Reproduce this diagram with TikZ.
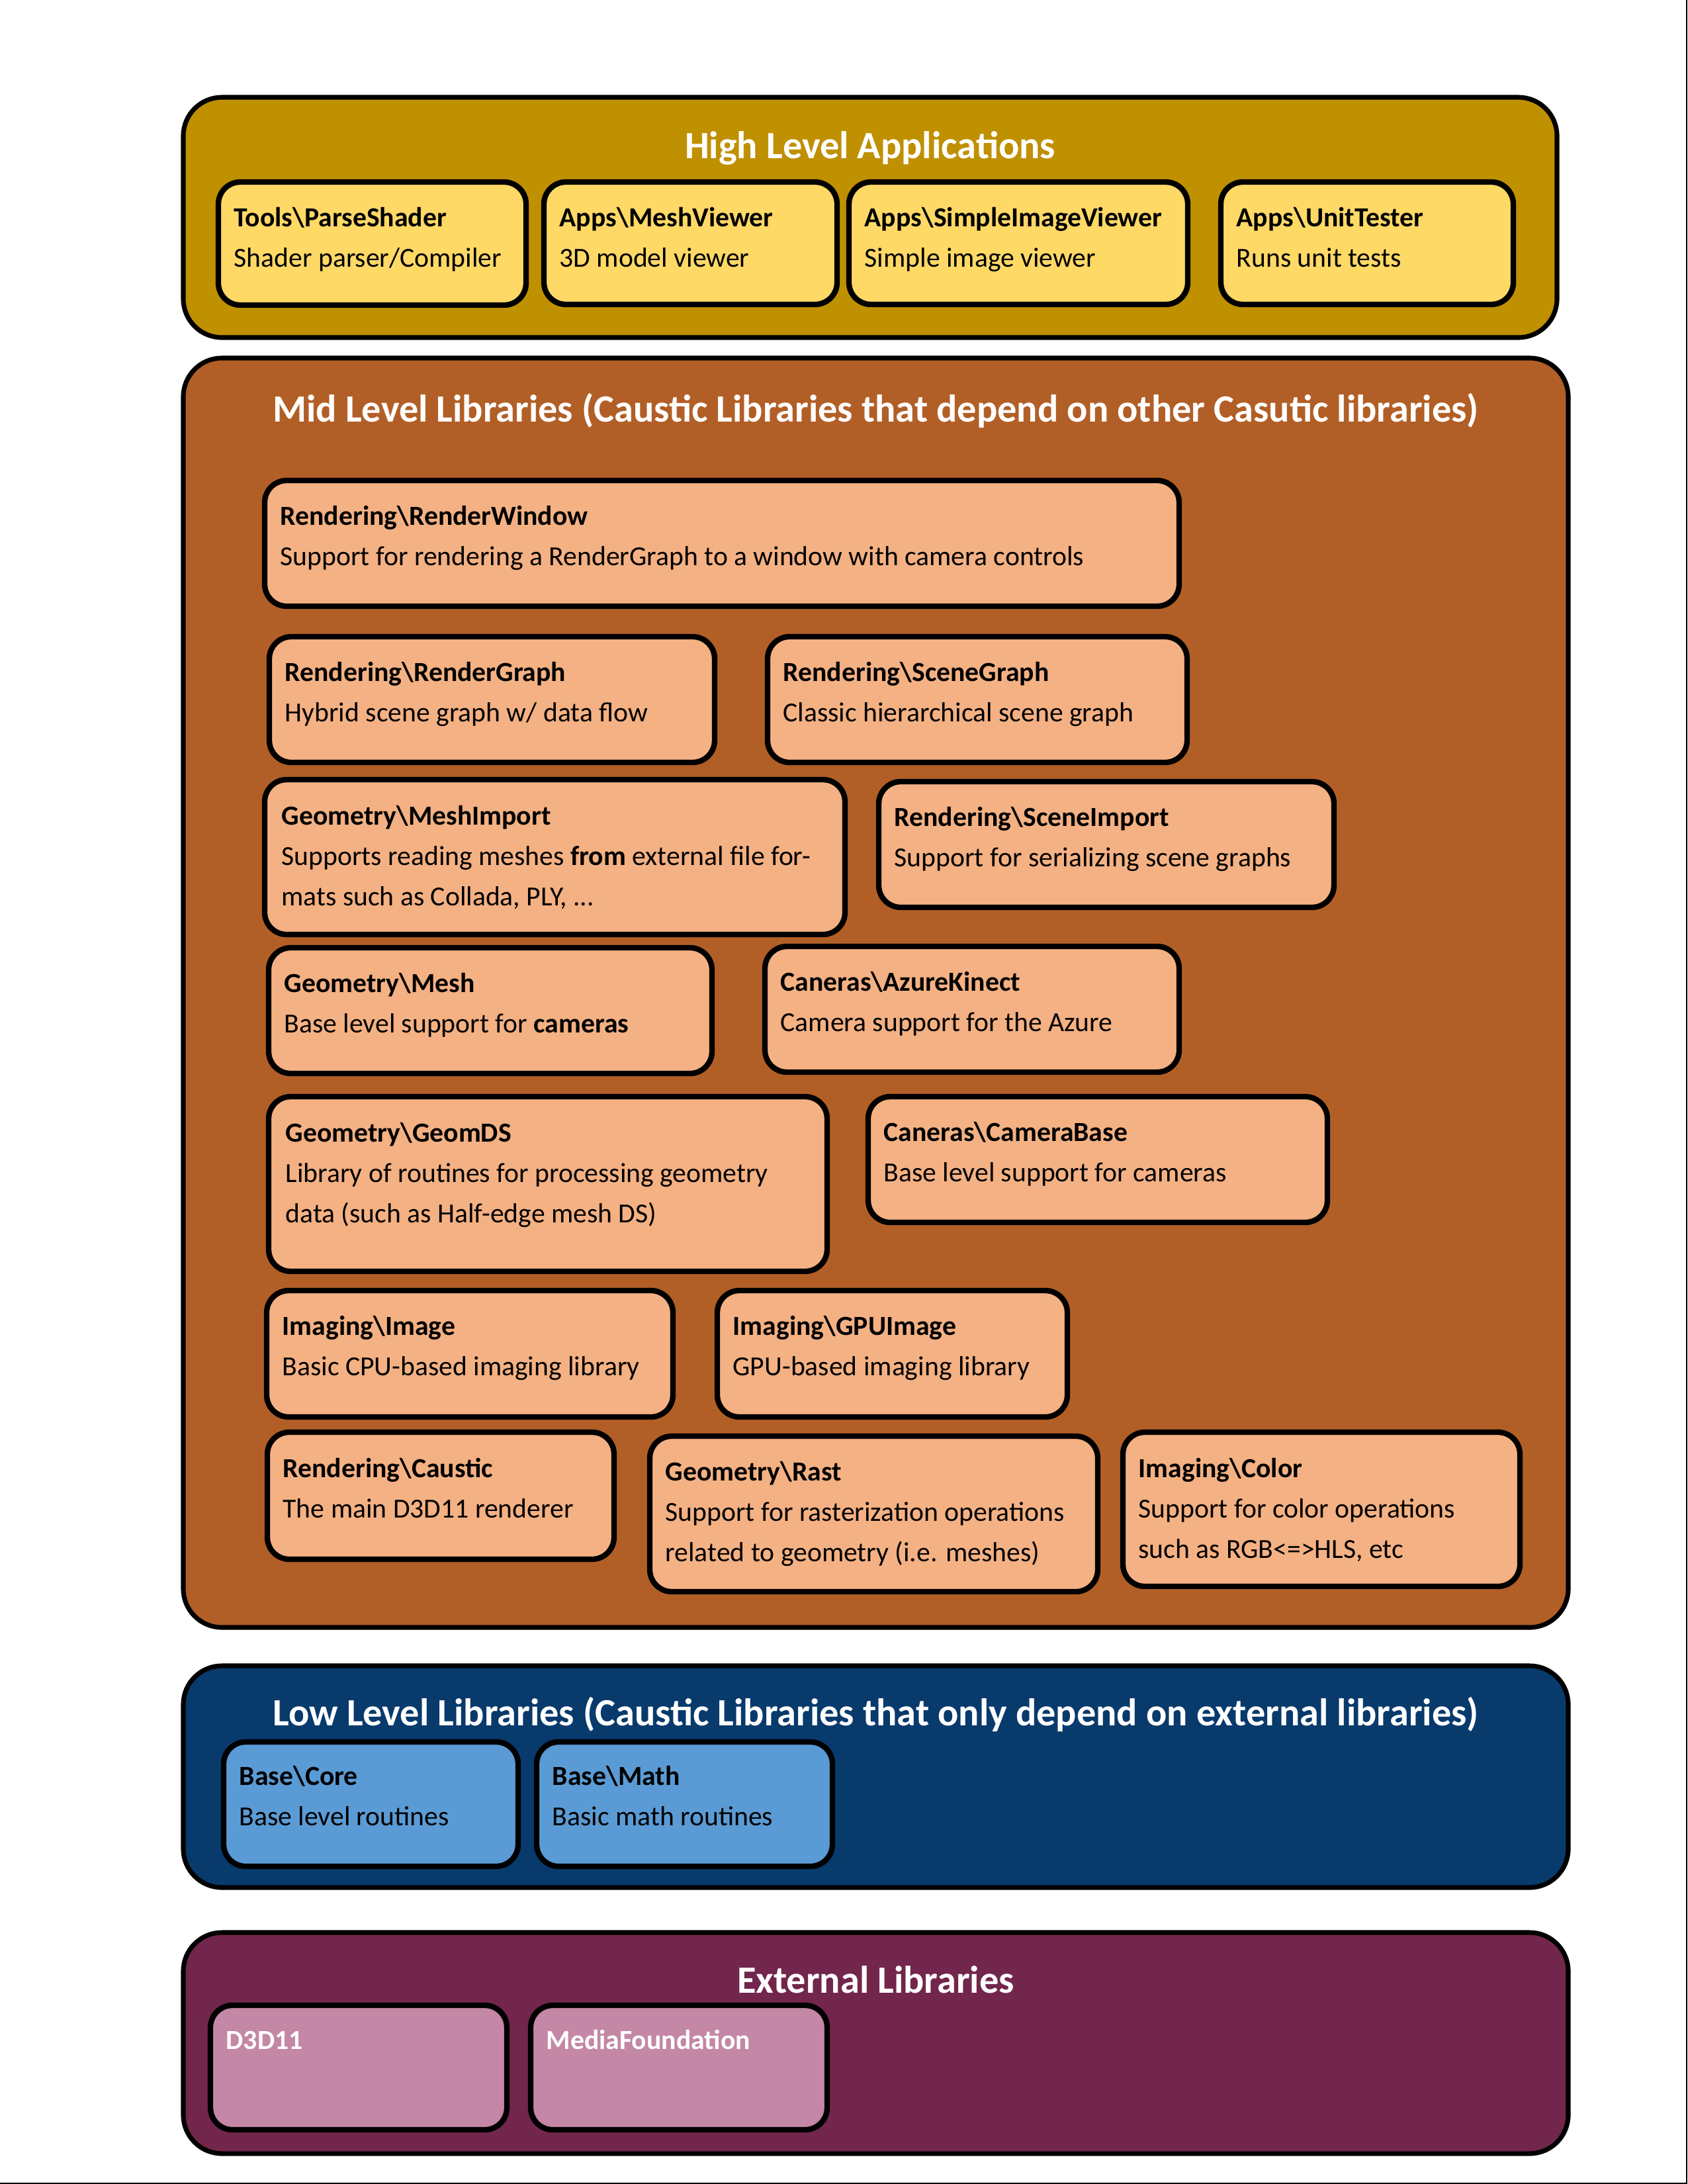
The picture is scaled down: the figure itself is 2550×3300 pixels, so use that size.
\documentclass[tikz,border=0pt]{standalone}
\usepackage{fontspec}
\setmainfont{Carlito}
\usetikzlibrary{fit}
\definecolor{highdark}{HTML}{BF9000}
\definecolor{highlight}{HTML}{FFD966}
\definecolor{middark}{HTML}{B25F27}
\definecolor{midlight}{HTML}{F4B183}
\definecolor{lowdark}{HTML}{083A6C}
\definecolor{lowlight}{HTML}{5B9BD5}
\definecolor{extdark}{HTML}{72264C}
\definecolor{extlight}{HTML}{C487A5}
\tikzset{
	tier/.style={
		rectangle,
		rounded corners=14pt,
		draw=black, line width=1.7pt,
		inner sep=0pt},
	libbox/.style={
		rectangle,
		rounded corners=8pt,
		draw=black, line width=2pt,
		inner sep=0pt},
	tiertitle/.style={
		anchor=base,
		inner sep=0pt,
		text=white,
		font=\fontsize{14}{17}\selectfont\bfseries},
	libtext/.style={
		anchor=base west,
		inner sep=0pt,
		text width=400pt,
		align=left,
		execute at begin node={\spaceskip=0pt\xspaceskip=0pt},
		font=\fontsize{10}{14.6}\selectfont}
}

\begin{document}
\begin{tikzpicture}
[x=0.24pt, y=-0.24pt]
\useasboundingbox (0,0) rectangle (2550,3300);
\draw[line width=0.5pt] (2549,0) -- (2549,3299) -- (0,3299);

% high level applications
\node[tier, fill=highdark, fit={(277,147) (2353,510)}] (high) {};
\node[tiertitle] (high-title) at ([shift={(0,96)}]high.north) {High Level Applications};
\node[libbox, fill=highlight, fit={(330,275) (795,461)}] (parseshader) {};
\node[libtext] (parseshader-txt) at ([shift={(27,72)}]parseshader.north west) {\textbf{Tools\textbackslash ParseShader}\\Shader parser/Compiler};
\node[libbox, fill=highlight, fit={(822,275) (1265,460)}] (meshviewer) {};
\node[libtext] (meshviewer-txt) at ([shift={(27,72)}]meshviewer.north west) {\textbf{Apps\textbackslash MeshViewer}\\3D model viewer};
\node[libbox, fill=highlight, fit={(1283,275) (1795,460)}] (imageviewer) {};
\node[libtext] (imageviewer-txt) at ([shift={(27,72)}]imageviewer.north west) {\textbf{Apps\textbackslash SimpleImageViewer}\\Simple image viewer};
\node[libbox, fill=highlight, fit={(1845,275) (2287,460)}] (unittester) {};
\node[libtext] (unittester-txt) at ([shift={(27,72)}]unittester.north west) {\textbf{Apps\textbackslash UnitTester}\\Runs unit tests};

% mid level libraries
\node[tier, fill=middark, fit={(277,541) (2370,2459)}] (mid) {};
\node[tiertitle] (mid-title) at ([shift={(0,100)}]mid.north) {Mid Level Libraries (Caustic Libraries that depend on other Casutic libraries)};
\node[libbox, fill=midlight, fit={(400,726) (1782,916)}] (renderwindow) {};
\node[libtext] (renderwindow-txt) at ([shift={(27,72)}]renderwindow.north west) {\textbf{Rendering\textbackslash RenderWindow}\\Support for rendering a RenderGraph to a window with camera controls};
\node[libbox, fill=midlight, fit={(407,962) (1080,1152)}] (rendergraph) {};
\node[libtext] (rendergraph-txt) at ([shift={(27,72)}]rendergraph.north west) {\textbf{Rendering\textbackslash RenderGraph}\\Hybrid scene graph w/ data flow};
\node[libbox, fill=midlight, fit={(1160,962) (1794,1152)}] (scenegraph) {};
\node[libtext] (scenegraph-txt) at ([shift={(27,72)}]scenegraph.north west) {\textbf{Rendering\textbackslash SceneGraph}\\Classic hierarchical scene graph};
\node[libbox, fill=midlight, fit={(400,1178) (1277,1412)}] (meshimport) {};
\node[libtext] (meshimport-txt) at ([shift={(29,73)}]meshimport.north west) {\textbf{Geometry\textbackslash MeshImport}\\Supports reading meshes \textbf{from} external file for-\\mats such as Collada, PLY, ...};
\node[libbox, fill=midlight, fit={(1328,1181) (2016,1371)}] (sceneimport) {};
\node[libtext] (sceneimport-txt) at ([shift={(27,72)}]sceneimport.north west) {\textbf{Rendering\textbackslash SceneImport}\\Support for serializing scene graphs};
\node[libbox, fill=midlight, fit={(406,1432) (1076,1622)}] (mesh) {};
\node[libtext] (mesh-txt) at ([shift={(27,72)}]mesh.north west) {\textbf{Geometry\textbackslash Mesh}\\Base level support for \textbf{cameras}};
\node[libbox, fill=midlight, fit={(1156,1430) (1782,1620)}] (azurekinect) {};
\node[libtext] (azurekinect-txt) at ([shift={(27,72)}]azurekinect.north west) {\textbf{Caneras\textbackslash AzureKinect}\\Camera support for the Azure};
\node[libbox, fill=midlight, fit={(406,1657) (1250,1921)}] (geomds) {};
\node[libtext] (geomds-txt) at ([shift={(29,73)}]geomds.north west) {\textbf{Geometry\textbackslash GeomDS}\\Library of routines for processing geometry\\data (such as Half-edge mesh DS)};
\node[libbox, fill=midlight, fit={(1312,1657) (2006,1847)}] (camerabase) {};
\node[libtext] (camerabase-txt) at ([shift={(27,72)}]camerabase.north west) {\textbf{Caneras\textbackslash CameraBase}\\Base level support for cameras};
\node[libbox, fill=midlight, fit={(403,1950) (1017,2141)}] (image) {};
\node[libtext] (image-txt) at ([shift={(27,72)}]image.north west) {\textbf{Imaging\textbackslash Image}\\Basic CPU-based imaging library};
\node[libbox, fill=midlight, fit={(1084,1950) (1613,2141)}] (gpuimage) {};
\node[libtext] (gpuimage-txt) at ([shift={(27,72)}]gpuimage.north west) {\textbf{Imaging\textbackslash GPUImage}\\GPU-based imaging library};
\node[libbox, fill=midlight, fit={(404,2164) (928,2356)}] (caustic) {};
\node[libtext] (caustic-txt) at ([shift={(27,73)}]caustic.north west) {\textbf{Rendering\textbackslash Caustic}\\The main D3D11 renderer};
\node[libbox, fill=midlight, fit={(982,2170) (1659,2405)}] (rast) {};
\node[libtext] (rast-txt) at ([shift={(27,72)}]rast.north west) {\textbf{Geometry\textbackslash Rast}\\Support for rasterization operations\\related to geometry (i.e. meshes)};
\node[libbox, fill=midlight, fit={(1697,2164) (2297,2397)}] (color) {};
\node[libtext] (color-txt) at ([shift={(27,73)}]color.north west) {\textbf{Imaging\textbackslash Color}\\Support for color operations\\such as RGB<=>HLS, etc};

% low level libraries
\node[tier, fill=lowdark, fit={(277,2517) (2370,2852)}] (low) {};
\node[tiertitle] (low-title) at ([shift={(0,94)}]low.north) {Low Level Libraries (Caustic Libraries that only depend on external libraries)};
\node[libbox, fill=lowlight, fit={(338,2632) (783,2820)}] (core) {};
\node[libtext] (core-txt) at ([shift={(27,70)}]core.north west) {\textbf{Base\textbackslash Core}\\Base level routines};
\node[libbox, fill=lowlight, fit={(811,2632) (1258,2820)}] (math) {};
\node[libtext] (math-txt) at ([shift={(27,70)}]math.north west) {\textbf{Base\textbackslash Math}\\Basic math routines};

% external libraries
\node[tier, fill=extdark, fit={(277,2920) (2370,3254)}] (external) {};
\node[tiertitle] (external-title) at ([shift={(0,95)}]external.north) {External Libraries};
\node[libbox, fill=extlight, fit={(318,3030) (766,3218)}] (d3d11) {};
\node[libtext, text=white] (d3d11-txt) at ([shift={(27,71)}]d3d11.north west) {\textbf{D3D11}};
\node[libbox, fill=extlight, fit={(802,3030) (1250,3218)}] (mediafoundation) {};
\node[libtext, text=white] (mediafoundation-txt) at ([shift={(27,71)}]mediafoundation.north west) {\textbf{MediaFoundation}};
\end{tikzpicture}
\end{document}
